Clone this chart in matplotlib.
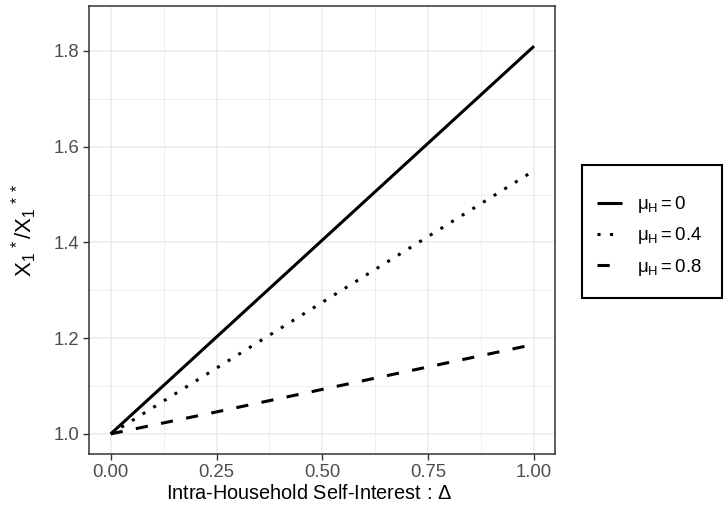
import matplotlib
matplotlib.use("Agg")
import matplotlib.pyplot as plt
from matplotlib.patches import Rectangle

plt.rcParams['font.family'] = ['Liberation Sans', 'DejaVu Sans']
plt.rcParams['mathtext.fontset'] = 'custom'
plt.rcParams['mathtext.rm'] = 'Liberation Sans'
plt.rcParams['mathtext.it'] = 'Liberation Sans'
plt.rcParams['mathtext.bf'] = 'Liberation Sans:bold'

# Data
delta = [0.0, 0.25, 0.5, 0.75, 1.0]
ratio_mu0 = [1.0, 1.2025, 1.405, 1.6075, 1.81]
ratio_mu04 = [1.0, 1.1375, 1.275, 1.4125, 1.55]
ratio_mu08 = [1.0, 1.046, 1.093, 1.140, 1.187]
series_labels = [r'$\mu_{\mathrm{H}} = 0$', r'$\mu_{\mathrm{H}} = 0.4$', r'$\mu_{\mathrm{H}} = 0.8$']
x_ticks = [0.0, 0.25, 0.5, 0.75, 1.0]
x_ticklabels = ['0.00', '0.25', '0.50', '0.75', '1.00']
y_ticks = [1.0, 1.2, 1.4, 1.6, 1.8]
y_ticklabels = ['1.0', '1.2', '1.4', '1.6', '1.8']

fig = plt.figure(figsize=(7.24, 5.17), dpi=100)
ax = fig.add_axes([89.3/724, 1-454/517, (555-89.3)/724, (454-6)/517])

styles = ['-', (0, (1, 3.1)), (0, (4, 4.4))]
series = [ratio_mu0, ratio_mu04, ratio_mu08]
handles = []
for ys, ls, lab in zip(series, styles, series_labels):
    h, = ax.plot(delta, ys, color='black', lw=2.2, linestyle=ls, label=lab,
                 solid_capstyle='butt', dash_capstyle='butt', zorder=3)
    handles.append(h)

ax.set_xlim(-0.0506, 1.0496)
ax.set_ylim(0.958, 1.894)
ax.set_xticks(x_ticks)
ax.set_xticklabels(x_ticklabels)
ax.set_yticks(y_ticks)
ax.set_yticklabels(y_ticklabels)
ax.set_xticks([0.125, 0.375, 0.625, 0.875], minor=True)
ax.set_yticks([1.1, 1.3, 1.5, 1.7], minor=True)
ax.grid(which='major', color='#EBEBEB', lw=1.1, zorder=0)
ax.grid(which='minor', color='#EBEBEB', lw=0.55, zorder=0)
ax.tick_params(which='minor', length=0)
ax.tick_params(which='major', length=4, width=1.0, color='#333333',
               labelcolor='#4D4D4D', labelsize=13.3, pad=3)
for sp in ax.spines.values():
    sp.set_color('#333333')
    sp.set_linewidth(1.1)
ax.set_axisbelow(True)

ax.set_xlabel(r'Intra-Household Self-Interest$\,:\,\Delta$', fontsize=14.3)
ax.xaxis.set_label_coords(0.473, -0.068)
ax.set_ylabel(r'$\mathrm{{X_1}^{\,*}/{X_1}^{\,**}}$', fontsize=16, labelpad=11)

# Legend box
fig.patches.append(Rectangle((582/724, 1-298/517), (722-582)/724, (298-165)/517,
                             transform=fig.transFigure, fill=False, edgecolor='black', lw=1.5))
leg = fig.legend(handles=handles, labels=series_labels, loc='center left',
                 bbox_to_anchor=(580/724, 1-236/517), frameon=False, fontsize=13.4,
                 handlelength=1.35, handletextpad=0.8, labelspacing=0.55)

fig.savefig('out.png', dpi=100)
